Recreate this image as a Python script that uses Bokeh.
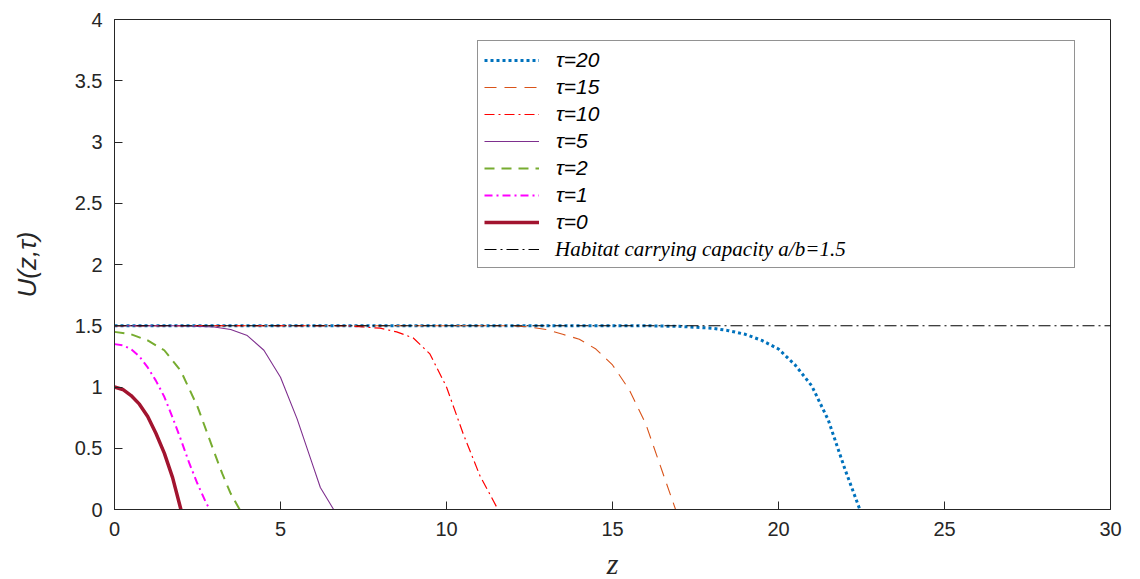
from bokeh.plotting import figure
from bokeh.models import Range1d, FixedTicker, Legend, LegendItem
from bokeh.embed import file_html
from bokeh.resources import INLINE

# ---- data ----
z0 = [0, 0.25, 0.5, 0.75, 1.0, 1.25, 1.5, 1.75, 2.0]
u0 = [1.0, 0.98, 0.93, 0.86, 0.76, 0.62, 0.46, 0.26, 0.0]

z1 = [0, 0.25, 0.5, 0.75, 1.0, 1.25, 1.5, 1.75, 2.0, 2.25, 2.5, 2.75, 2.87]
u1 = [1.35, 1.34, 1.31, 1.25, 1.16, 1.05, 0.92, 0.75, 0.57, 0.38, 0.21, 0.06, 0.0]

z2 = [0, 0.5, 1.0, 1.5, 2.0, 2.5, 3.0, 3.25, 3.5, 3.77]
u2 = [1.45, 1.43, 1.38, 1.30, 1.13, 0.84, 0.47, 0.29, 0.13, 0.0]

z5 = [0, 1, 2, 3, 3.5, 4, 4.5, 5, 5.5, 6, 6.2, 6.6]
u5 = [1.5, 1.5, 1.5, 1.49, 1.47, 1.42, 1.30, 1.08, 0.74, 0.34, 0.18, 0.0]

z10 = [0, 2, 4, 6, 7, 7.5, 8, 8.5, 9, 9.5, 10, 10.5, 11, 11.55]
u10 = [1.5, 1.5, 1.5, 1.5, 1.5, 1.49, 1.48, 1.45, 1.40, 1.27, 1.0, 0.62, 0.28, 0.0]

z15 = [0, 3, 6, 9, 11, 12, 12.5, 13, 13.5, 14, 14.5, 15, 15.5, 16, 16.5, 16.9]
u15 = [1.5, 1.5, 1.5, 1.5, 1.5, 1.5, 1.49, 1.47, 1.43, 1.39, 1.31, 1.18, 0.98, 0.70, 0.31, 0.0]

z20 = [0, 4, 8, 12, 16, 17, 18, 18.5, 19, 19.5, 20, 20.5, 21, 21.5, 22, 22.45]
u20 = [1.5, 1.5, 1.5, 1.5, 1.5, 1.495, 1.48, 1.46, 1.43, 1.38, 1.31, 1.18, 1.01, 0.73, 0.33, 0.0]

zcap = [0, 30]
ucap = [1.5, 1.5]

x_ticks = [0, 5, 10, 15, 20, 25, 30]
x_tick_labels = ["0", "5", "10", "15", "20", "25", "30"]
y_ticks = [0, 0.5, 1, 1.5, 2, 2.5, 3, 3.5, 4]
y_tick_labels = ["0", "0.5", "1", "1.5", "2", "2.5", "3", "3.5", "4"]

labels = ["τ=20", "τ=15", "τ=10", "τ=5", "τ=2", "τ=1", "τ=0"]
cap_label = "Habitat carrying capacity a/b=1.5"

AX = "#262626"

p = figure(width=1140, height=579, frame_width=996, frame_height=490,
           x_range=Range1d(0, 30), y_range=Range1d(0, 4),
           output_backend="svg", toolbar_location=None,
           min_border_left=114, min_border_right=30,
           min_border_top=19, min_border_bottom=70)
p.grid.visible = False
p.outline_line_color = AX
p.outline_line_width = 1
p.background_fill_color = "white"
p.border_fill_color = "white"

for ax, ticks, tl in ((p.xaxis[0], x_ticks, x_tick_labels), (p.yaxis[0], y_ticks, y_tick_labels)):
    ax.ticker = FixedTicker(ticks=ticks)
    ax.major_label_overrides = {t: s for t, s in zip(ticks, tl)}
    ax.minor_tick_line_color = None
    ax.major_tick_in = 8
    ax.major_tick_out = 0
    ax.major_tick_line_color = AX
    ax.axis_line_color = AX
    ax.major_label_text_font = "Liberation Sans"
    ax.major_label_text_font_size = "20px"
    ax.major_label_text_color = AX
    ax.major_label_standoff = 12

p.xaxis.axis_label = "z"
p.xaxis.axis_label_text_font = "Liberation Serif"
p.xaxis.axis_label_text_font_style = "italic"
p.xaxis.axis_label_text_font_size = "30px"
p.xaxis.axis_label_text_color = AX
p.xaxis.axis_label_standoff = 8

p.yaxis.axis_label = "U(z,τ)"
p.yaxis.axis_label_text_font = "Liberation Sans"
p.yaxis.axis_label_text_font_style = "italic"
p.yaxis.axis_label_text_font_size = "26px"
p.yaxis.axis_label_text_color = AX
p.yaxis.axis_label_standoff = 30

r20 = p.line(z20, u20, line_color="#0072BD", line_width=3, line_dash="3 3")
r15 = p.line(z15, u15, line_color="#D95319", line_width=1.1, line_dash="12 8")
r10 = p.line(z10, u10, line_color="#FF0000", line_width=1.2, line_dash="10 4 2 4")
r5 = p.line(z5, u5, line_color="#7E2F8E", line_width=1.1)
r2 = p.line(z2, u2, line_color="#77AC30", line_width=2, line_dash="10 7")
r1 = p.line(z1, u1, line_color="#FF00FF", line_width=2, line_dash="8 4 2 4")
r0 = p.line(z0, u0, line_color="#A2142F", line_width=3.5)
rcap = p.line(zcap, ucap, line_color="black", line_width=1, line_dash="12 4 2 4")
rdummy = p.line([], [], line_alpha=0)

items = [LegendItem(label=l, renderers=[r]) for l, r in zip(labels, [r20, r15, r10, r5, r2, r1, r0])]
items.append(LegendItem(label=" ", renderers=[rcap]))

common = dict(location=(363, 241), padding=6, spacing=2, margin=0,
              glyph_width=55, glyph_height=20, label_height=25,
              label_standoff=17, label_width=512,
              label_text_font_size="21px", label_text_font_style="italic",
              label_text_color="black")

leg1 = Legend(items=items, border_line_color=AX, border_line_width=1,
              background_fill_color="white", background_fill_alpha=1,
              label_text_font="Liberation Sans", **common)
leg2 = Legend(items=[LegendItem(label=cap_label, renderers=[rdummy])],
              border_line_alpha=0, background_fill_alpha=0,
              label_text_font="Liberation Serif", **common)
p.add_layout(leg1, "center")
p.add_layout(leg2, "center")

open("out.html", "w").write(file_html(p, INLINE))
